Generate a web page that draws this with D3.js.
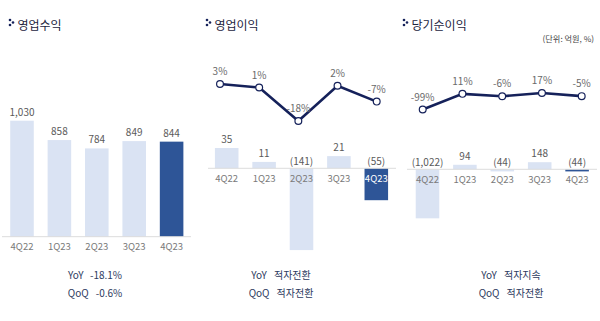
<!DOCTYPE html>
<html><head><meta charset="utf-8">
<script src="https://cdn.jsdelivr.net/npm/d3@7"></script>
<style>
html,body{margin:0;padding:0;background:#fff;}
svg{display:block;font-family:"Noto Sans CJK KR","Noto Sans",sans-serif;}
</style></head>
<body>
<svg id="c" width="600" height="321"></svg>
<script>
const categories = ["4Q22","1Q23","2Q23","3Q23","4Q23"];
const titles = ["영업수익","영업이익","당기순이익"];
const revenue = [1030, 858, 784, 849, 844];
const opProfit = [35, 11, -141, 21, -55];
const netProfit = [-1022, 94, -44, 148, -44];
const opMargin = [3, 1, -18, 2, -7];
const netMargin = [-99, 11, -6, 17, -5];
const yoyLabels = ["-18.1%","적자전환","적자지속"];
const qoqLabels = ["-0.6%","적자전환","적자전환"];
const unitNote = "(단위: 억원, %)";

const svg = d3.select("#c");
const LIGHT = "#dae3f3", DARK = "#2e5597", NAVY = "#15215a";
const fmt = v => v < 0 ? "(" + d3.format(",")(-v) + ")" : d3.format(",")(v);

function title(x, t){
  const g = svg.append("g");
  [[x, 20],[x+3, 22.5],[x, 25]].forEach(p=>g.append("circle").attr("cx",p[0]).attr("cy",p[1]).attr("r",1.3).attr("fill",NAVY));
  g.append("text").attr("x", x+7.5).attr("y", 29.5).attr("font-size", 12).attr("fill", "#1c2540").text(t);
}

const panels = [
  {vals: revenue, xr:[3.3,190.3], yd:[0,1030], yr:[236.7,120.7], base:[2,191], titleX:10, c:95, yoy:0, line:null},
  {vals: opProfit, xr:[208,395], yd:[0,35], yr:[168.3,148], base:[208,396], titleX:207, c:281, yoy:1,
   line:{vals:opMargin, xr:[220,376.7], yd:[-18,3], yr:[121,84]}},
  {vals: netProfit, xr:[408.8,595.8], yd:[0,148], yr:[169.3,162.2], base:[407,597], titleX:404, c:511, yoy:2,
   line:{vals:netMargin, xr:[422.7,581.7], yd:[-99,17], yr:[109.5,93]}}
];

panels.forEach((p, pi) => {
  title(p.titleX, titles[pi]);
  const x = d3.scaleBand().domain(categories).range(p.xr).paddingInner(0.37).paddingOuter(0.185);
  const y = d3.scaleLinear().domain(p.yd).range(p.yr);
  const g = svg.append("g");
  const y0 = y(0);
  g.selectAll("rect").data(p.vals).join("rect")
    .attr("x", (d,i)=>x(categories[i]))
    .attr("width", x.bandwidth())
    .attr("y", d=>Math.min(y(d), y0))
    .attr("height", d=>Math.abs(y(d)-y0))
    .attr("fill", (d,i)=> i===categories.length-1 ? DARK : LIGHT);
  g.append("line").attr("x1",p.base[0]).attr("x2",p.base[1]).attr("y1",y0).attr("y2",y0)
    .attr("stroke","#dcdcdc").attr("stroke-width",1);
  g.selectAll("text.v").data(p.vals).join("text").attr("class","v")
    .attr("x",(d,i)=>x(categories[i])+x.bandwidth()/2)
    .attr("y", d=> d>=0 ? y(d)-5 : y0-3)
    .attr("text-anchor","middle").attr("font-size",10).attr("fill","#5a5a5a")
    .text(fmt);
  g.selectAll("text.cat").data(categories).join("text").attr("class","cat")
    .attr("x",d=>x(d)+x.bandwidth()/2)
    .attr("y", y0+13.5)
    .attr("text-anchor","middle").attr("font-size",9.5)
    .attr("fill",(d,i)=> (pi===1 && i===categories.length-1) ? "#ffffff" : "#7a7a7a")
    .text(d=>d);

  if (p.line) {
    const lx = d3.scalePoint().domain(categories).range(p.line.xr);
    const ly = d3.scaleLinear().domain(p.line.yd).range(p.line.yr);
    const line = d3.line().x((d,i)=>lx(categories[i])).y(d=>ly(d));
    g.append("path").datum(p.line.vals).attr("d",line).attr("fill","none")
      .attr("stroke",NAVY).attr("stroke-width",2.6).attr("stroke-linejoin","miter");
    g.selectAll("circle.m").data(p.line.vals).join("circle").attr("class","m")
      .attr("cx",(d,i)=>lx(categories[i])).attr("cy",d=>ly(d)).attr("r",3.4)
      .attr("fill","#fff").attr("stroke",NAVY).attr("stroke-width",1.2);
    g.selectAll("text.pct").data(p.line.vals).join("text").attr("class","pct")
      .attr("x",(d,i)=>lx(categories[i])).attr("y",d=>ly(d)-9)
      .attr("text-anchor","middle").attr("font-size",10).attr("fill","#6a6a6a")
      .text(d=>d+"%");
  }

  [["YoY", yoyLabels[p.yoy], 279],["QoQ", qoqLabels[p.yoy], 296.5]].forEach(r=>{
    const t = g.append("text").attr("x",p.c).attr("y",r[2]).attr("text-anchor","middle")
      .attr("font-size",10).attr("fill","#2d3a5e");
    t.append("tspan").text(r[0]);
    t.append("tspan").attr("dx",7).text(r[1]);
  });
});

svg.append("text").attr("x",594).attr("y",42).attr("text-anchor","end")
  .attr("font-size",8.2).attr("fill","#444").text(unitNote);
</script>
</body></html>
